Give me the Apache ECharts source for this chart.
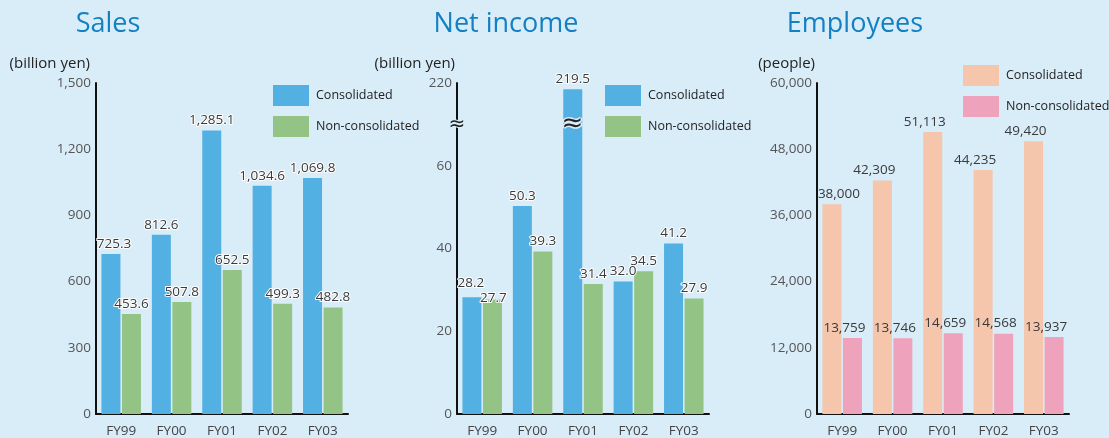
<!DOCTYPE html>
<html>
<head>
<meta charset="utf-8">
<title>Sales / Net income / Employees</title>
<script src="https://cdn.jsdelivr.net/npm/echarts@6/dist/echarts.min.js"></script>
<style>
  html, body { margin: 0; padding: 0; background: #d9edf9; }
  #main { width: 1109px; height: 438px; }
</style>
</head>
<body>
<div id="main"></div>
<script>
var years = ['FY99', 'FY00', 'FY01', 'FY02', 'FY03'];

var salesCons = [725.3, 812.6, 1285.1, 1034.6, 1069.8];
var salesNonCons = [453.6, 507.8, 652.5, 499.3, 482.8];

var incomeCons = [28.2, 50.3, 219.5, 32.0, 41.2];
var incomeNonCons = [27.7, 39.3, 31.4, 34.5, 27.9];

var staffCons = [38000, 42309, 51113, 44235, 49420];
var staffNonCons = [13759, 13746, 14659, 14568, 13937];

// net income axis is broken: 0-60 linear, top tick reads 220
var incomeTopLabel = 220;
var incomeAxisTop = 80;
var incomeBreakAt = 70;

var blue = '#53b0e3', green = '#93c486', peach = '#f5c5ac', pink = '#eea2bc';
var font = 'Open Sans';

function squash(v) {
  return v > 60 ? incomeAxisTop - (incomeTopLabel - v) * 3 : v;
}

function fmt(v, digits) {
  return Number(v).toLocaleString('en-US', { minimumFractionDigits: digits, maximumFractionDigits: digits });
}

function yAxis(grid, opt) {
  return Object.assign({
    type: 'value',
    gridIndex: grid,
    min: 0,
    nameLocation: 'end',
    nameGap: 12,
    axisLine: { show: true, lineStyle: { color: '#111', width: 2 } },
    axisTick: { show: false },
    splitLine: { show: false }
  }, opt);
}

function axisName(padRight) {
  return { color: '#222', fontSize: 15, fontFamily: font, align: 'right', padding: [0, padRight, 0, 0] };
}

function tickLabel(formatter) {
  return { color: '#555', fontSize: 13.5, fontFamily: font, margin: 5, formatter: formatter };
}

function xAxis(grid) {
  return {
    type: 'category',
    gridIndex: grid,
    data: years,
    axisLine: { lineStyle: { color: '#111', width: 2 } },
    axisTick: { show: false },
    axisLabel: { color: '#444', fontSize: 13.5, fontFamily: font, margin: 10 }
  };
}

function barLabel(halo, formatter, offset) {
  var l = {
    show: true,
    position: 'top',
    distance: 3,
    color: '#3a3a3a',
    fontSize: 13.5,
    fontFamily: font,
    formatter: formatter
  };
  if (halo) {
    l.textBorderColor = '#fff';
    l.textBorderWidth = 2;
  }
  if (offset) l.offset = offset;
  return l;
}

function legend(left, top, colors) {
  return {
    left: left,
    top: top,
    padding: 0,
    orient: 'vertical',
    itemWidth: 36,
    itemHeight: 21,
    itemGap: 10,
    icon: 'rect',
    selectedMode: false,
    textStyle: { color: '#222', fontSize: 12.5, fontFamily: font, padding: [0, 0, 0, 2] },
    data: [
      { name: 'Consolidated', itemStyle: { color: colors[0] } },
      { name: 'Non-consolidated', itemStyle: { color: colors[1] } }
    ]
  };
}

var chart = echarts.init(document.getElementById('main'));

var barBase = { type: 'bar', barWidth: 19, barGap: '8%', animation: false };

var option = {
  backgroundColor: '#d9edf9',
  title: [
    { text: 'Sales', left: 103, top: 6, textAlign: 'center' },
    { text: 'Net income', left: 501, top: 6, textAlign: 'center' },
    { text: 'Employees', left: 850, top: 6, textAlign: 'center' }
  ].map(function (t) {
    t.textStyle = { color: '#1480c4', fontSize: 27, fontWeight: 'normal', fontFamily: font };
    return t;
  }),
  legend: [
    legend(273, 85, [blue, green]),
    legend(605, 85, [blue, green]),
    legend(963, 65, [peach, pink])
  ],
  grid: [
    { left: 96, top: 83, width: 252, height: 332 },
    { left: 457, top: 83, width: 252, height: 332 },
    { left: 817, top: 83, width: 252, height: 332 }
  ],
  xAxis: [xAxis(0), xAxis(1), xAxis(2)],
  yAxis: [
    yAxis(0, {
      name: '(billion yen)', max: 1500, interval: 300,
      nameTextStyle: axisName(6),
      axisLabel: tickLabel(function (v) { return fmt(v, 0); })
    }),
    yAxis(1, {
      name: '(billion yen)', max: incomeAxisTop, interval: 20,
      nameTextStyle: axisName(2),
      axisLabel: tickLabel(function (v) { return v === incomeAxisTop ? String(incomeTopLabel) : String(v); })
    }),
    yAxis(2, {
      name: '(people)', max: 60000, interval: 12000,
      nameTextStyle: axisName(2),
      axisLabel: tickLabel(function (v) { return fmt(v, 0); })
    })
  ],
  series: [
    Object.assign({}, barBase, {
      name: 'Consolidated', xAxisIndex: 0, yAxisIndex: 0,
      data: salesCons.map(function (v, i) {
        return i === 0 ? { value: v, label: { offset: [3, 0] } } : v;
      }),
      itemStyle: { color: blue },
      label: barLabel(true, function (p) { return fmt(p.value, 1); })
    }),
    Object.assign({}, barBase, {
      name: 'Non-consolidated', xAxisIndex: 0, yAxisIndex: 0, data: salesNonCons,
      itemStyle: { color: green },
      label: barLabel(true, function (p) { return fmt(p.value, 1); })
    }),
    Object.assign({}, barBase, {
      name: 'Consolidated', xAxisIndex: 1, yAxisIndex: 1,
      data: incomeCons.map(function (v, i) {
        return i === 0 ? { value: squash(v), label: { offset: [-1, -4] } } : squash(v);
      }),
      itemStyle: { color: blue },
      label: barLabel(true, function (p) { return fmt(incomeCons[p.dataIndex], 1); })
    }),
    Object.assign({}, barBase, {
      name: 'Non-consolidated', xAxisIndex: 1, yAxisIndex: 1,
      data: incomeNonCons.map(function (v, i) {
        return i === 0 ? { value: squash(v), label: { offset: [1, 9] } } : squash(v);
      }),
      itemStyle: { color: green },
      label: barLabel(true, function (p) { return fmt(incomeNonCons[p.dataIndex], 1); })
    }),
    Object.assign({}, barBase, {
      name: 'Consolidated', xAxisIndex: 2, yAxisIndex: 2,
      data: staffCons.map(function (v, i) {
        return { value: v, label: { offset: i === 0 ? [7, 0] : [-8, 0] } };
      }),
      itemStyle: { color: peach },
      label: barLabel(false, function (p) { return fmt(p.value, 0); })
    }),
    Object.assign({}, barBase, {
      name: 'Non-consolidated', xAxisIndex: 2, yAxisIndex: 2, data: staffNonCons,
      itemStyle: { color: pink },
      label: barLabel(false, function (p) { return fmt(p.value, 0); }, [-8, 0])
    })
  ]
};

chart.setOption(option);

// break marks on the net income axis and on the bar that crosses it
var breakY = chart.convertToPixel({ yAxisIndex: 1 }, incomeBreakAt);
var marks = [{ x: 457, big: false }];
incomeCons.forEach(function (v, i) {
  if (v > incomeBreakAt) {
    var px = chart.convertToPixel({ gridIndex: 1 }, [i, squash(v)]);
    marks.push({ x: px[0] - 10.5, big: true });
  }
});
chart.setOption({
  graphic: marks.map(function (m) {
    return {
      type: 'text',
      x: m.x,
      y: breakY,
      style: {
        text: '≈',
        fill: '#222',
        fontSize: m.big ? 26 : 20,
        fontFamily: 'DejaVu Sans',
        align: 'center',
        verticalAlign: 'middle',
        stroke: '#d9edf9',
        lineWidth: m.big ? 3 : 2
      },
      z: 100
    };
  })
});
</script>
</body>
</html>
